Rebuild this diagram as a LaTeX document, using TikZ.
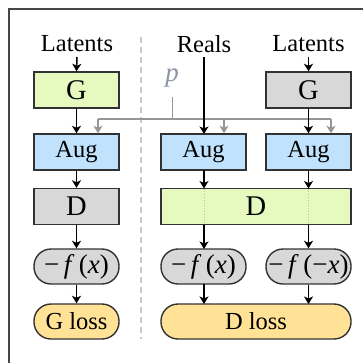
\documentclass[tikz,border=0pt]{standalone}
\usepackage{fontspec}
\setmainfont{Liberation Serif}
\usetikzlibrary{arrows.meta}
\definecolor{cgreen}{RGB}{230,250,192}
\definecolor{cblue}{RGB}{192,226,252}
\definecolor{cgrey}{RGB}{216,216,216}
\definecolor{cyel}{RGB}{255,226,150}
\definecolor{cborder}{RGB}{50,50,50}
\definecolor{cline}{RGB}{150,150,150}
\definecolor{cp}{RGB}{140,148,165}
\definecolor{cdash}{RGB}{200,200,200}
\tikzset{
  box/.style={draw=cborder, line width=1.4pt, minimum width=85pt, minimum height=36pt, inner sep=0pt, font=\fontsize{24.5}{28}\selectfont},
  bigtxt/.style={font=\fontsize{28.5}{32}\selectfont},
  pill/.style={box, rounded corners=17pt, minimum height=35pt},
  lbl/.style={inner sep=0pt, font=\fontsize{24.5}{28}\selectfont},
  arr/.style={-{Stealth[length=7.5pt,width=9pt,inset=2pt]}, line width=1.5pt, black},
  garr/.style={-{Stealth[length=7.5pt,width=9pt,inset=2pt]}, line width=1.4pt, cline},
  gline/.style={line width=1.4pt, cline},
}
\newcommand{\fx}[1]{\fontsize{27}{30}\selectfont −\,\textit{f}\,(#1)}
\begin{document}
\begin{tikzpicture}[x=1pt,y=-1pt]
\useasboundingbox (0,0) rectangle (363,362);
% frame
\draw[line width=1.1pt, cborder!90] (9,370) -- (9,9) -- (370,9);
% dashed separator
\draw[cdash, line width=1.4pt, dash pattern=on 6pt off 4pt] (141,37) -- (141,339);
% left column
\node[lbl] (latL) at (77,44) {Latents};
\node[box, bigtxt, fill=cgreen] (gL) at (76.5,90) {G};
\node[box, fill=cblue] (augL) at (76.5,152) {Aug};
\node[box, bigtxt, fill=cgrey] (dL) at (76.5,206.5) {D};
\node[pill, fill=cgrey] (fL) at (76.5,266.5) {\fx{\textit{x}}};
\node[pill, fill=cyel] (lossL) at (76.5,321.5) {G loss};
% middle and right
\node[lbl] (reals) at (204,44) {Reals};
\node[lbl] (latR) at (308.5,44) {Latents};
\node[box, bigtxt, fill=cgrey] (gR) at (308.5,90) {G};
\node[box, fill=cblue] (augM) at (203.5,152) {Aug};
\node[box, fill=cblue] (augR) at (308.5,152) {Aug};
\node[box, bigtxt, fill=cgreen, minimum width=190pt] (dB) at (256,206.5) {D};
\node[pill, fill=cgrey] (fM) at (203.5,266.5) {\fx{\textit{x}}};
\node[pill, fill=cgrey] (fR) at (308.5,266.5) {\fx{−\textit{x}}};
\node[pill, fill=cyel, minimum width=190pt] (lossB) at (256,321.5) {D loss};
% dotted lines inside D
\draw[cdash!80!gray, line width=0.8pt, dotted] (204,188.5) -- (204,224.5);
\draw[cdash!80!gray, line width=0.8pt, dotted] (308.5,188.5) -- (308.5,224.5);
% p and grey routing
\node[inner sep=0pt, text=cp, font=\fontsize{27}{30}\selectfont\itshape] (p) at (172,78) {p};
\coordinate (jp) at (172.5,119);
\coordinate (jl) at (98,119);
\coordinate (jm) at (224,119);
\coordinate (jr) at (331,119);
\draw[gline] (172.5,97) -- (jp);
\draw[gline] (jl) -- (jr);
\draw[garr] (jl) -- (jl |- augL.north);
\draw[garr] (jm) -- (jm |- augM.north);
\draw[garr] (jr) -- (jr |- augR.north);
% black arrows left
\draw[arr] (77,57) -- (gL.north);
\draw[arr] (gL) -- (augL);
\draw[arr] (augL) -- (dL);
\draw[arr] (dL) -- (fL);
\draw[arr] (fL) -- (lossL);
% middle
\draw[arr] (204,57) -- (204,134);
\draw[arr] (204,170) -- (204,188.5);
\draw[arr] (204,224.5) -- (204,249);
\draw[arr] (204,284) -- (204,304);
% right
\draw[arr] (308.5,57) -- (gR.north);
\draw[arr] (gR) -- (augR);
\draw[arr] (augR.south) -- (308.5,188.5);
\draw[arr] (308.5,224.5) -- (fR.north);
\draw[arr] (fR.south) -- (308.5,304);
\end{tikzpicture}
\end{document}
